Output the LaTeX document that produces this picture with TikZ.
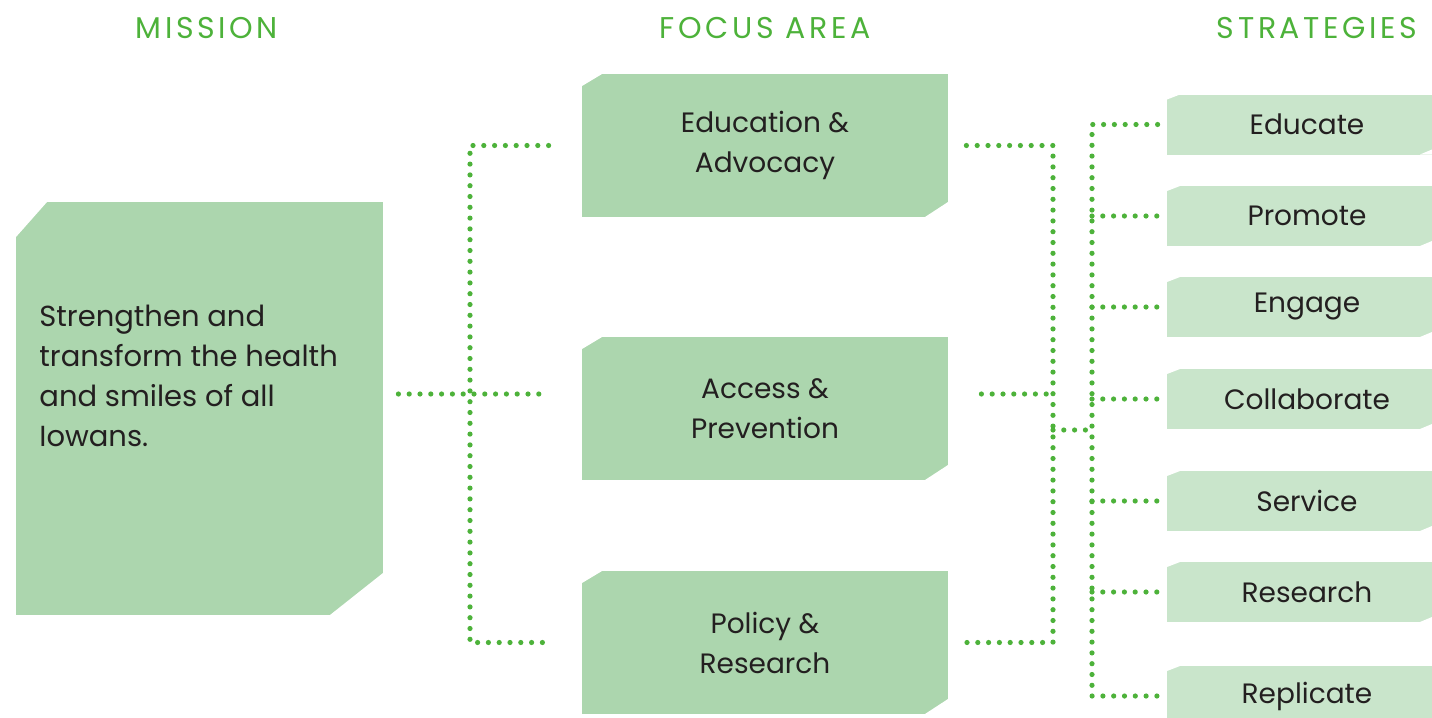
\documentclass[tikz,border=0pt]{standalone}
\usepackage{fontspec}
\setmainfont{Poppins}
\definecolor{dotgreen}{HTML}{4DB23A}
\definecolor{boxgreen}{HTML}{ACD6AE}
\definecolor{palegreen}{HTML}{C9E5CB}
\definecolor{ink}{HTML}{231F20}
\begin{document}
\begin{tikzpicture}[
        x                = 0.5pt,
        y                = -0.5pt,
        cut/.style n args = {4}{path picture={
            \fill[white] (path picture bounding box.north west) -- ++(#1,0) -- ++(-#1,#2) -- cycle;
            \fill[white] (path picture bounding box.south east) -- ++(-#3,0) -- ++(#3,-#4) -- cycle;}},
        head/.style      = {text=dotgreen, inner sep=0pt,
                            font=\fontsize{15}{17}\selectfont\addfontfeature{LetterSpace=12}},
        focus/.style     = {fill=boxgreen, inner sep=0pt, minimum width=183pt, minimum height=71.5pt,
                            align=center, text=ink, font=\fontsize{14}{20}\selectfont, cut={20}{12}{23}{15}},
        strat/.style     = {fill=palegreen, inner sep=0pt, minimum width=132.5pt, minimum height=30pt,
                            text=ink, font=\fontsize{14}{16}\selectfont, cut={13}{5}{12}{5},
                            execute at begin node=\hspace*{7.5pt}},
        dots/.style      = {draw=dotgreen, line width=2.6pt, line cap=round, dash pattern=on 0pt off 5.4pt},
      ]
        \useasboundingbox (0,0) rectangle (1432,718);

        % headings
        \node[head] (hmission) at (207,28)  {MISSION};
        \node[head] (hfocus)   at (765,28)  {FOCUS AREA};
        \node[head] (hstrat)   at (1317,28) {STRATEGIES};

        % mission
        \node[fill=boxgreen, inner sep=0pt, minimum width=183.5pt, minimum height=206.5pt,
              cut={31}{35}{53}{42}] (mission) at (199.5,408.5) {};
        \node[anchor=west, align=left, text=ink, inner sep=0pt,
              font=\fontsize{14.5}{20}\selectfont] (mtext) at (39,376)
              {Strengthen and\\transform the health\\and smiles of all\\Iowans.};

        % focus areas
        \node[focus] (edu) at (765,145.5) {Education \&\\Advocacy};
        \node[focus] (acc) at (765,408.5) {Access \&\\Prevention};
        \node[focus] (pol) at (765,642.5) {Policy \&\\Research};

        % strategies
        \foreach \txt/\yy [count=\i] in {Educate/124.5, Promote/216, Engage/307, Collaborate/399,
                                         Service/501, Research/592, Replicate/696}
            \node[strat] (s\i) at (1299.5,\yy) {\txt};

        % junctions
        \coordinate (lbus) at (470,394);
        \coordinate (rbus) at (1053,394);
        \coordinate (sbus) at (1092,430);

        % mission to focus areas
        \draw[dots] ([xshift=7.5pt]mission.east |- lbus) -- ([xshift=-16.5pt]acc.west |- lbus);
        \draw[dots] ([xshift=-16.5pt]edu.west) -| (lbus) |- ([xshift=-16.5pt]pol.west);

        % focus areas to strategies
        \draw[dots] ([xshift=9pt]edu.east) -| (rbus) |- ([xshift=9pt]pol.east);
        \draw[dots] ([xshift=16.5pt]acc.east |- rbus) -- (rbus);
        \draw[dots] (rbus |- sbus) -- (sbus);
        \draw[dots] ([xshift=-4.5pt]s1.west) -| (sbus) |- ([xshift=-4.5pt]s7.west);
        \foreach \i in {2,...,6}
            \draw[dots] (sbus |- s\i.west) -- ([xshift=-4.5pt]s\i.west);
    \end{tikzpicture}
\end{document}
